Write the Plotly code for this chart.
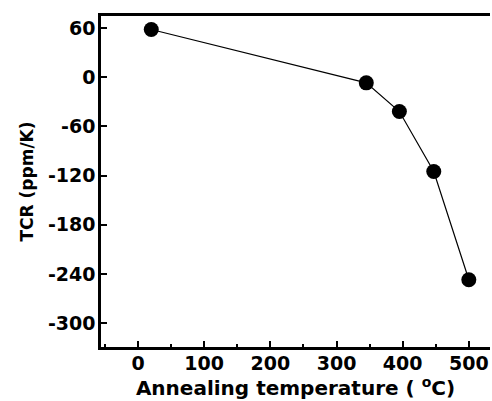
import plotly.graph_objects as go

temperature = [20, 345, 395, 447, 500]
tcr = [58, -7, -42, -115, -247]
y_ticks = [60, 0, -60, -120, -180, -240, -300]
x_ticks = [0, 100, 200, 300, 400, 500]

font_family = "DejaVu Sans, Liberation Sans, Arial, sans-serif"

fig = go.Figure()
fig.add_trace(go.Scatter(
    x=temperature, y=tcr, mode="lines+markers",
    line=dict(color="black", width=1.2),
    marker=dict(color="black", size=15, symbol="circle"),
    showlegend=False,
))

fig.update_layout(
    width=492, height=401,
    margin=dict(l=101, r=2, t=16, b=54),
    paper_bgcolor="white", plot_bgcolor="white",
    font=dict(family=font_family, color="black"),
)

fig.update_xaxes(
    range=[-56, 532],
    tickvals=x_ticks, ticktext=["<b>%d</b>" % v for v in x_ticks],
    ticks="inside", ticklen=6, tickwidth=1.5, tickcolor="black",
    minor=dict(ticks="inside", ticklen=3, tickcolor="black", dtick=50, tick0=0, showgrid=False),
    showline=True, linecolor="black", linewidth=2.5, mirror=True,
    showgrid=False, zeroline=False,
    tickfont=dict(size=19, family=font_family, weight="bold"),
    ticklabelstandoff=-3,
    title=dict(text="<b>Annealing temperature ( <sup>o</sup>C)</b>",
               font=dict(size=20, family=font_family, weight="bold"), standoff=0),
)
fig.update_yaxes(
    range=[-329, 74.5],
    tickvals=y_ticks, ticktext=["<b>%d</b>" % v for v in y_ticks],
    ticks="inside", ticklen=6, tickwidth=1.5, tickcolor="black",
    showline=True, linecolor="black", linewidth=2.5, mirror=False,
    showgrid=False, zeroline=False,
    tickfont=dict(size=19, family=font_family, weight="bold"),
    ticklabelstandoff=-1,
    title=dict(text="<b>TCR (ppm/K)</b>",
               font=dict(size=17, family=font_family, weight="bold"), standoff=10),
)

fig.write_html("out.html")
